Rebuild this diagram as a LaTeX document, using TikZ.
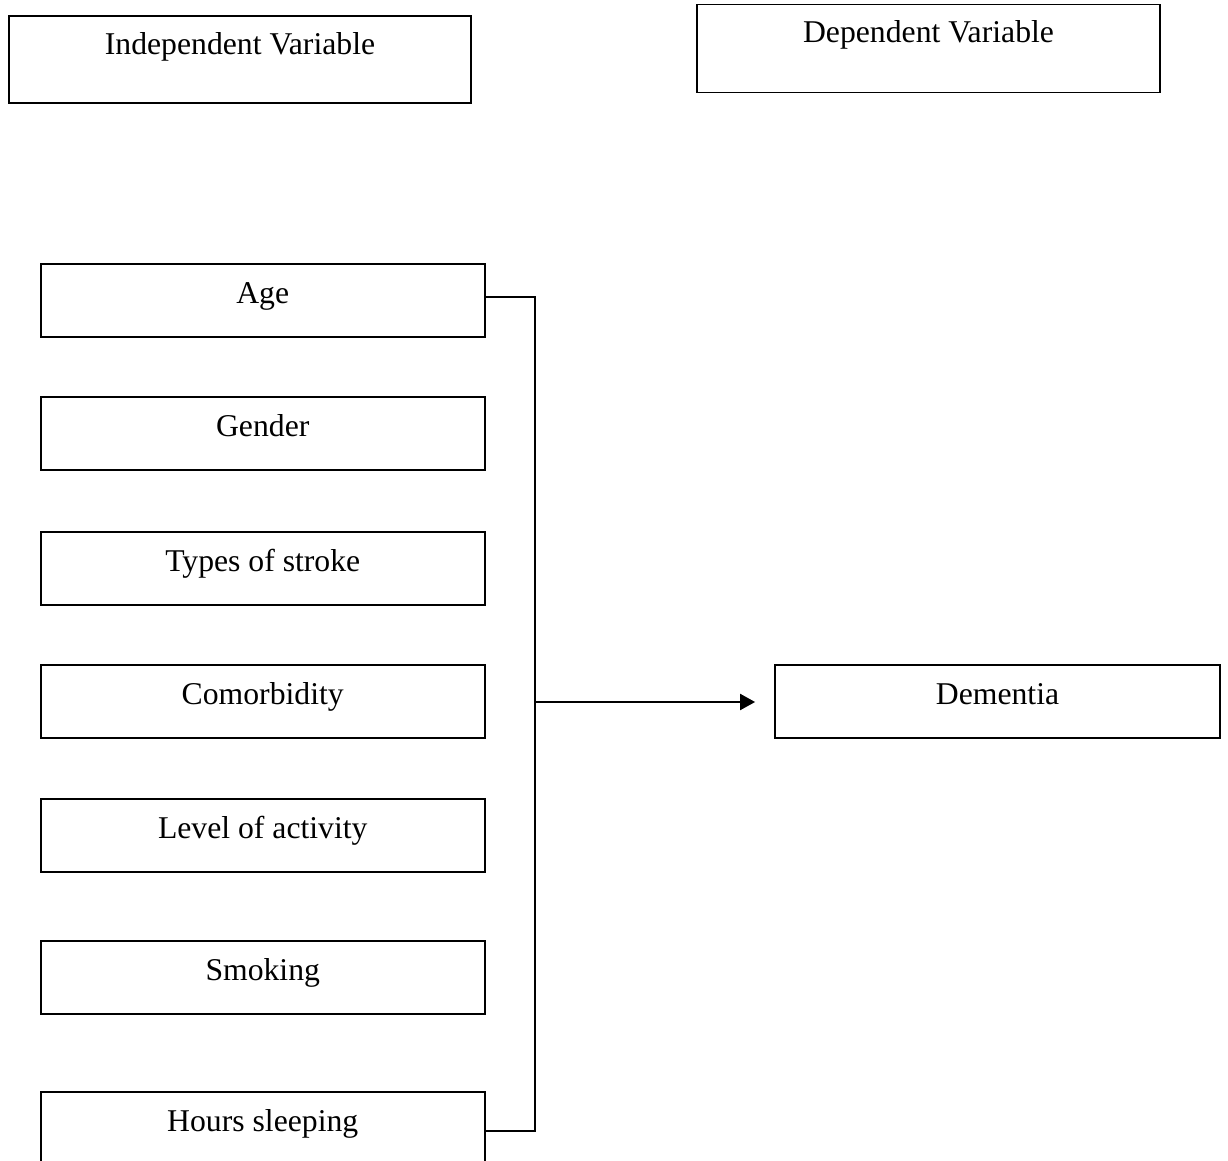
\documentclass[tikz,border=0pt]{standalone}
\usepackage{fontspec}
\setmainfont{Liberation Serif}
\usetikzlibrary{arrows.meta,calc}
\begin{document}
\begin{tikzpicture}[x=1pt,y=-1pt,
  boxbase/.style={draw=black,line width=1.8pt,rectangle,inner sep=0pt,
    font=\fontsize{31.7}{36}\selectfont,text height=21pt},
  varbox/.style={boxbase,minimum width=444pt,minimum height=73pt,text depth=16pt},
  headbox/.style={boxbase,minimum width=462pt,minimum height=87pt,text depth=30pt},
  conn/.style={line width=2.1pt,line join=miter}]
\clip (0,0) rectangle (1228,1161);
\fill[white] (0,0) rectangle (1228,1161);
\node[headbox] (indep) at (240,59.5) {Independent Variable};
\node[headbox,minimum height=88pt,text depth=32pt,minimum width=463pt] (dep) at (928.5,48.5) {Dependent Variable};
\node[varbox] (age) at (262.75,300.75) {Age};
\node[varbox] (gender) at (262.75,433.5) {Gender};
\node[varbox] (types) at (262.75,568.5) {Types of stroke};
\node[varbox] (comor) at (262.75,701.5) {Comorbidity};
\node[varbox] (level) at (262.75,835.5) {Level of activity};
\node[varbox] (smoke) at (262.75,977.5) {Smoking};
\node[varbox] (hours) at (262.75,1128.5) {Hours sleeping};
\node[varbox,minimum width=445pt] (dem) at (997.5,701.5) {Dementia};
\coordinate (hub) at (535,702);
\coordinate (a1) at ([yshift=3.5pt]age.east);
\coordinate (h1) at ([yshift=-2.5pt]hours.east);
\coordinate (tip) at ([xshift=-19pt]dem.west |- hub);
\draw[conn] (a1) -- (a1 -| hub) -- (h1 -| hub) -- (h1);
\draw[conn,-{Triangle[length=15pt,width=16pt]}] (hub) -- (tip);
\end{tikzpicture}
\end{document}
